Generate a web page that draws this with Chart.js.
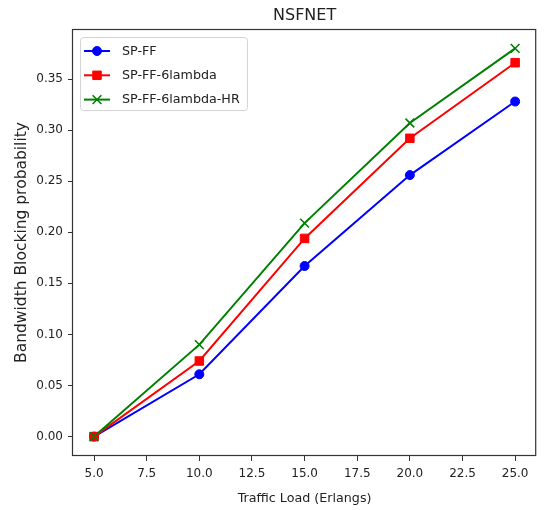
<!DOCTYPE html>
<html>
<head>
<meta charset="utf-8">
<script src="https://cdn.jsdelivr.net/npm/chart.js@4/dist/chart.umd.min.js"></script>
<style>
  html, body { margin: 0; padding: 0; background: #fff; }
  #wrap { width: 544px; height: 510px; }
</style>
</head>
<body>
<div id="wrap"><canvas id="chart" width="544" height="510"></canvas></div>
<script>
// data
const loads = [5, 10, 15, 20, 25];
const spFF = [0.0, 0.061, 0.167, 0.256, 0.328];
const spFF6 = [0.0, 0.074, 0.194, 0.292, 0.366];
const spFF6HR = [0.0, 0.090, 0.209, 0.307, 0.380];

const xTicks = [5, 7.5, 10, 12.5, 15, 17.5, 20, 22.5, 25];
const yTicks = [0, 0.05, 0.10, 0.15, 0.20, 0.25, 0.30, 0.35];

const seriesNames = ['SP-FF', 'SP-FF-6lambda', 'SP-FF-6lambda-HR'];

(function(){
    const FONT = 'DejaVu Sans';
    const TEXT = '#222';
    Chart.defaults.font.family = FONT;
    Chart.defaults.color = TEXT;

    function pts(ys){
        return loads.map((x, i) => ({ x, y: ys[i] }));
    }

    function dataset(label, ys, color, style, radius, order){
        return {
            label, data: pts(ys), order,
            borderColor: color, backgroundColor: color,
            borderWidth: 2,
            pointStyle: style, pointRadius: radius, pointHoverRadius: radius,
            pointBackgroundColor: color, pointBorderColor: color,
            pointBorderWidth: style === 'crossRot' ? 1.6 : 1,
            tension: 0
        };
    }

    // frame round the plot area and the title over it
    const frame = {
        id: 'frame',
        beforeDatasetsDraw(chart){
            const { ctx, chartArea: a } = chart;
            ctx.save();
            ctx.strokeStyle = '#333';
            ctx.lineWidth = 1.2;
            ctx.strokeRect(a.left - 0.5, a.top + 0.5, a.right - a.left, a.bottom - a.top - 1);
            ctx.fillStyle = TEXT;
            ctx.font = '16px "' + FONT + '"';
            ctx.textAlign = 'center';
            ctx.textBaseline = 'alphabetic';
            ctx.fillText('NSFNET', (a.left + a.right) / 2, a.top - 9);
            ctx.restore();
        }
    };

    // legend box in the upper left corner of the plot
    const innerLegend = {
        id: 'innerLegend',
        afterDatasetsDraw(chart){
            const { ctx, chartArea: a } = chart;
            const x0 = a.left + 7, y0 = a.top + 8, w = 167, h = 73;
            ctx.save();
            ctx.beginPath();
            if (ctx.roundRect) ctx.roundRect(x0 + 0.5, y0 + 0.5, w, h, 3);
            else ctx.rect(x0 + 0.5, y0 + 0.5, w, h);
            ctx.fillStyle = 'rgba(255,255,255,0.85)';
            ctx.fill();
            ctx.strokeStyle = '#d4d4d4';
            ctx.lineWidth = 1;
            ctx.stroke();
            chart.data.datasets.forEach((ds, i) => {
                const y = y0 + 14 + i * 24.3;
                ctx.strokeStyle = ds.borderColor;
                ctx.lineWidth = ds.borderWidth;
                ctx.beginPath();
                ctx.moveTo(x0 + 4, y);
                ctx.lineTo(x0 + 30, y);
                ctx.stroke();
                ctx.fillStyle = ds.pointBackgroundColor;
                ctx.strokeStyle = ds.pointBorderColor;
                ctx.lineWidth = ds.pointBorderWidth;
                Chart.helpers.drawPoint(ctx, { pointStyle: ds.pointStyle, radius: ds.pointRadius, rotation: 0, borderWidth: ds.pointBorderWidth }, x0 + 17, y);
                ctx.fillStyle = TEXT;
                ctx.font = '12.7px "' + FONT + '"';
                ctx.textAlign = 'left';
                ctx.textBaseline = 'middle';
                ctx.fillText(ds.label, x0 + 42, y + 0.5);
            });
            ctx.restore();
        }
    };

    function init(){
        const ctx = document.getElementById('chart').getContext('2d');
        new Chart(ctx, {
            type: 'line',
            data: {
                datasets: [
                    dataset(seriesNames[0], spFF, '#0000ff', 'circle', 4.5, 3),
                    dataset(seriesNames[1], spFF6, '#ff0000', 'rect', 6, 2),
                    dataset(seriesNames[2], spFF6HR, '#008000', 'crossRot', 6.2, 1)
                ]
            },
            options: {
                responsive: false,
                devicePixelRatio: 1,
                animation: false,
                events: [],
                layout: { padding: { top: 29, right: 7, left: 0, bottom: 0 } },
                plugins: { legend: { display: false }, tooltip: { enabled: false }, title: { display: false } },
                scales: {
                    x: {
                        type: 'linear', min: 4, max: 26,
                        afterBuildTicks: s => { s.ticks = xTicks.map(v => ({ value: v })); },
                        afterFit: s => { s.height = 54; },
                        border: { display: false },
                        grid: { drawOnChartArea: false, drawTicks: true, tickLength: 5, tickColor: '#333', tickWidth: 1 },
                        ticks: { padding: 6, font: { size: 12 }, color: TEXT, maxRotation: 0, callback: v => Number(v).toFixed(1) },
                        title: { display: true, text: 'Traffic Load (Erlangs)', font: { size: 12.7 }, color: TEXT, padding: { top: 0, bottom: 4 } }
                    },
                    y: {
                        type: 'linear', min: -0.019, max: 0.399,
                        afterBuildTicks: s => { s.ticks = yTicks.map(v => ({ value: v })); },
                        afterFit: s => { s.width = 73; },
                        border: { display: false },
                        grid: { drawOnChartArea: false, drawTicks: true, tickLength: 5, tickColor: '#333', tickWidth: 1 },
                        ticks: { padding: 5, font: { size: 12 }, color: TEXT, callback: v => Number(v).toFixed(2) },
                        title: { display: true, text: 'Bandwidth Blocking probability', font: { size: 15.5 }, color: TEXT, padding: { top: 13, bottom: 0 } }
                    }
                }
            },
            plugins: [frame, innerLegend]
        });
    }

    document.addEventListener('DOMContentLoaded', init);
})();
</script>
</body>
</html>
